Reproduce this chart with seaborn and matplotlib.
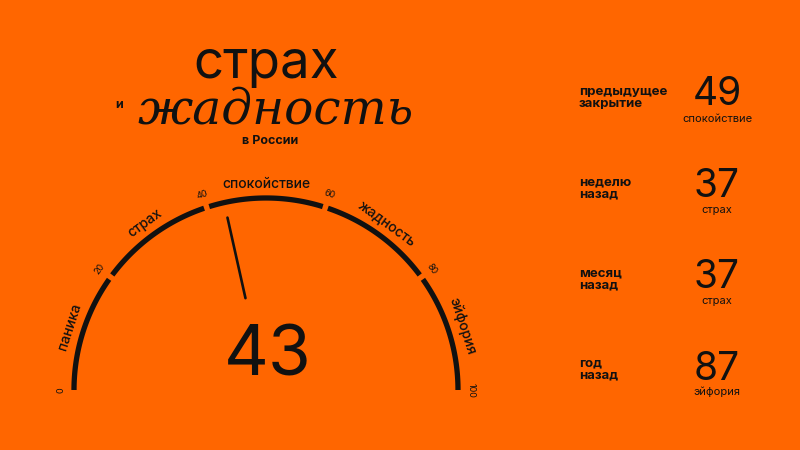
import numpy as np
import pandas as pd
import matplotlib.pyplot as plt
import seaborn as sns

# gauge data
zones = ["паника", "страх", "спокойствие", "жадность", "эйфория"]
zone_edges = [0, 20, 40, 60, 80, 100]
current = 43

# history panel
hist_labels = ["предыдущее\nзакрытие", "неделю\nназад", "месяц\nназад", "год\nназад"]
hist_values = [49, 37, 37, 87]
hist_zones = ["спокойствие", "страх", "страх", "эйфория"]

BG = "#ff6600"
INK = "#111111"

sns.set_theme(style="white")
plt.rcParams["font.family"] = ["Inter", "Roboto", "DejaVu Sans"]


def polar(v, r):
    t = np.pi * (1 - np.asarray(v) / 100.0)
    return r * np.cos(t), r * np.sin(t)


fig = plt.figure(figsize=(8, 4.5), dpi=100, facecolor=BG)
ax = fig.add_axes([0.0205, 0.048, 0.624, 0.6187])
ax.set_facecolor(BG)

# arc segments with small gaps at inner edges
gap = 0.45
rows = []
for i in range(len(zones)):
    a = zone_edges[i] + (gap if i > 0 else 0)
    b = zone_edges[i + 1] - (gap if i < len(zones) - 1 else 0)
    vs = np.linspace(a, b, 60)
    xs, ys = polar(vs, 1.0)
    for x, y in zip(xs, ys):
        rows.append({"x": x, "y": y, "seg": zones[i]})
arc = pd.DataFrame(rows)
sns.lineplot(data=arc, x="x", y="y", units="seg", estimator=None, sort=False,
             color=INK, lw=3.8, solid_capstyle="butt", ax=ax, legend=False)

# needle
nx, ny = polar([current, current], [0.49, 0.92])
needle = pd.DataFrame({"x": nx, "y": ny})
sns.lineplot(data=needle, x="x", y="y", sort=False, color=INK, lw=1.9, ax=ax)

# edge numbers
for v in zone_edges:
    x, y = polar(v, 1.07)
    rot = np.degrees(np.pi * (1 - v / 100.0)) - 90
    ax.text(x, y, str(v), ha="center", va="center", rotation=rot,
            rotation_mode="anchor", fontsize=6.5, color=INK)

# zone names
for i, name in enumerate(zones):
    mid = (zone_edges[i] + zone_edges[i + 1]) / 2
    x, y = polar(mid, 1.075)
    rot = np.degrees(np.pi * (1 - mid / 100.0)) - 90
    ax.text(x, y, name, ha="center", va="center", rotation=rot,
            rotation_mode="anchor", fontsize=10, fontweight="medium", color=INK)

ax.text(0.01, 0.17, str(current), ha="center", va="center", fontsize=50,
        color=INK)

ax.set_xlim(-1.3, 1.3)
ax.set_ylim(-0.2, 1.25)
ax.set_aspect("equal")
ax.set_xlabel("")
ax.set_ylabel("")
ax.axis("off")

# title block
fig.text(266 / 800, 1 - 78 / 450, "страх", ha="center", va="baseline",
         fontsize=38, color=INK)
fig.text(276 / 800, 1 - 123 / 450, "жадность", ha="center", va="baseline",
         fontsize=35, color=INK, family="DejaVu Serif", style="italic")
fig.text(119 / 800, 1 - 108 / 450, "и", ha="center", va="baseline",
         fontsize=9, fontweight="bold", color=INK)
fig.text(270 / 800, 1 - 144 / 450, "в России", ha="center", va="baseline",
         fontsize=9, fontweight="bold", color=INK)

# history panel
num_base = [105, 197, 288, 380]
sub_base = [122, 213, 304, 395]
lab_top = [86, 176, 267, 357]
for i in range(len(hist_values)):
    fig.text(579 / 800, 1 - lab_top[i] / 450, hist_labels[i], ha="left", va="top",
             fontsize=9.5, fontweight="bold", color=INK, linespacing=1.05)
    fig.text(717 / 800, 1 - num_base[i] / 450, str(hist_values[i]), ha="center",
             va="baseline", fontsize=28, color=INK)
    fig.text(717 / 800, 1 - sub_base[i] / 450, hist_zones[i], ha="center",
             va="baseline", fontsize=8, color=INK)

fig.savefig("out.png", dpi=100, facecolor=BG)
